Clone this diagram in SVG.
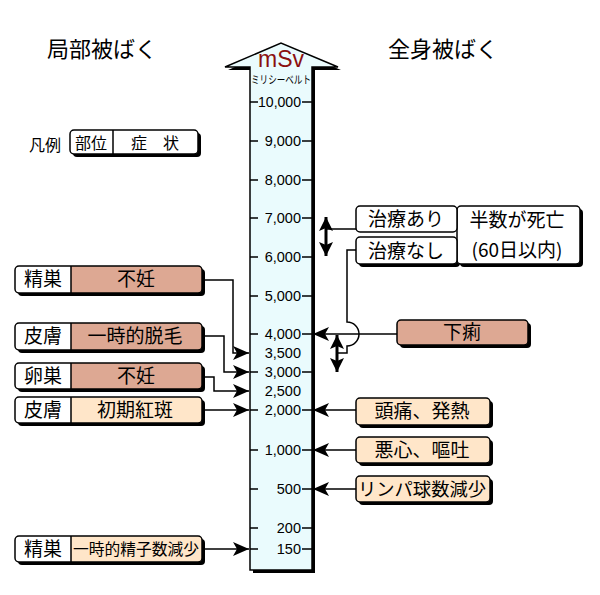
<svg xmlns="http://www.w3.org/2000/svg" width="600" height="595" viewBox="0 0 600 595">
<defs>
<marker id="ah" markerUnits="userSpaceOnUse" markerWidth="16" markerHeight="14" refX="16" refY="7" orient="auto-start-reverse">
<path d="M0,0 L16,7 L0,14 L4,7 Z" fill="#000"/>
</marker>
<marker id="dh" markerUnits="userSpaceOnUse" markerWidth="14" markerHeight="14" refX="14" refY="7" orient="auto-start-reverse">
<path d="M0,0 L14,7 L0,14 L3,7 Z" fill="#000"/>
</marker>
</defs>
<style>
.jp{font-family:"Noto Sans CJK JP","Noto Sans",sans-serif;fill:#000}
.num{font-family:"Liberation Sans",Arial,sans-serif;font-size:14.5px;text-anchor:end;fill:#000}
.tick{stroke:#000;stroke-width:1.5}
.sh{fill:#000}
.box{stroke:#000;stroke-width:1.5}
.salmon{fill:#DDA893}
.peach{fill:#FFE6C9}
.white{fill:#fff}
.con{fill:none;stroke:#000;stroke-width:1.5}
.arr{marker-end:url(#ah)}
.both{fill:none;stroke:#000;stroke-width:3;marker-start:url(#dh);marker-end:url(#dh)}
</style>
<rect width="600" height="595" fill="#fff"/>

<text class="jp" x="102" y="57" font-size="22" text-anchor="middle">局部被ばく</text>
<text class="jp" x="443" y="57" font-size="22" text-anchor="middle">全身被ばく</text>

<!-- Scale bar -->
<g id="scale">
<path d="M253,573 L253,70 L228,70 L284,46 L341,70 L315,70 L315,573 Z" class="sh"/>
<path d="M250,570 L250,67 L225,67 L281,43 L338,67 L312,67 L312,570 Z" fill="#EAFBFD" stroke="#000" stroke-width="1.5"/>
<text x="281" y="67" font-family="Liberation Sans,Arial,sans-serif" font-size="23" fill="#8B1010" text-anchor="middle">mSv</text>
<text class="jp" x="281" y="84" font-size="11" text-anchor="middle" textLength="60" lengthAdjust="spacingAndGlyphs">ミリシーベルト</text>
<g class="tick">
<path d="M250,102H258M302,102H312M250,141H258M302,141H312M250,180H258M302,180H312M250,218H258M302,218H312M250,257H258M302,257H312M250,296H258M302,296H312M250,334H258M302,334H312M250,372H258M302,372H312M250,410H258M302,410H312M250,450H258M302,450H312M250,489H258M302,489H312M250,528H258M302,528H312M250,549H258M302,549H312"/>
</g>
<text class="num" x="301" y="107" textLength="43" lengthAdjust="spacingAndGlyphs">10,000</text>
<text class="num" x="301" y="146">9,000</text>
<text class="num" x="301" y="185">8,000</text>
<text class="num" x="301" y="223">7,000</text>
<text class="num" x="301" y="262">6,000</text>
<text class="num" x="301" y="301">5,000</text>
<text class="num" x="301" y="339">4,000</text>
<text class="num" x="301" y="358">3,500</text>
<text class="num" x="301" y="377">3,000</text>
<text class="num" x="301" y="396">2,500</text>
<text class="num" x="301" y="415">2,000</text>
<text class="num" x="301" y="455">1,000</text>
<text class="num" x="301" y="494">500</text>
<text class="num" x="301" y="533">200</text>
<text class="num" x="301" y="554">150</text>
</g>

<!-- Legend -->
<g id="legend">
<text class="jp" x="45" y="151" font-size="16" text-anchor="middle">凡例</text>
<rect x="73" y="133" width="128" height="24" rx="4" class="sh"/>
<rect x="70" y="130" width="128" height="24" rx="4" class="white box"/>
<line x1="113" y1="130" x2="113" y2="154" class="box"/>
<text class="jp" x="91" y="149" font-size="16" text-anchor="middle">部位</text>
<text class="jp" x="155" y="149" font-size="16" text-anchor="middle">症　状</text>
</g>

<!-- Left nodes -->
<g id="l-seiso-funin">
<rect x="18" y="269" width="187" height="27" rx="4" class="sh"/>
<rect x="15" y="266" width="187" height="27" rx="4" class="salmon"/>
<path d="M71,266 H19 Q15,266 15,270 V289 Q15,293 19,293 H71 Z" class="white"/>
<rect x="15" y="266" width="187" height="27" rx="4" fill="none" class="box"/>
<line x1="71" y1="266" x2="71" y2="293" class="box"/>
<text class="jp" x="43" y="286" font-size="19" text-anchor="middle">精巣</text>
<text class="jp" x="136" y="286" font-size="19" text-anchor="middle">不妊</text>
</g>
<g id="l-hifu-datsumo">
<rect x="18" y="326" width="187" height="27" rx="4" class="sh"/>
<rect x="15" y="323" width="187" height="27" rx="4" class="salmon"/>
<path d="M71,323 H19 Q15,323 15,327 V346 Q15,350 19,350 H71 Z" class="white"/>
<rect x="15" y="323" width="187" height="27" rx="4" fill="none" class="box"/>
<line x1="71" y1="323" x2="71" y2="350" class="box"/>
<text class="jp" x="43" y="343" font-size="19" text-anchor="middle">皮膚</text>
<text class="jp" x="135" y="343" font-size="19" text-anchor="middle">一時的脱毛</text>
</g>
<g id="l-ranso-funin">
<rect x="18" y="366" width="187" height="26" rx="4" class="sh"/>
<rect x="15" y="363" width="187" height="26" rx="4" class="salmon"/>
<path d="M71,363 H19 Q15,363 15,367 V385 Q15,389 19,389 H71 Z" class="white"/>
<rect x="15" y="363" width="187" height="26" rx="4" fill="none" class="box"/>
<line x1="71" y1="363" x2="71" y2="389" class="box"/>
<text class="jp" x="43" y="383" font-size="19" text-anchor="middle">卵巣</text>
<text class="jp" x="136" y="383" font-size="19" text-anchor="middle">不妊</text>
</g>
<g id="l-hifu-kohan">
<rect x="18" y="400" width="187" height="26" rx="4" class="sh"/>
<rect x="15" y="397" width="187" height="26" rx="4" class="peach"/>
<path d="M71,397 H19 Q15,397 15,401 V419 Q15,423 19,423 H71 Z" class="white"/>
<rect x="15" y="397" width="187" height="26" rx="4" fill="none" class="box"/>
<line x1="71" y1="397" x2="71" y2="423" class="box"/>
<text class="jp" x="43" y="417" font-size="19" text-anchor="middle">皮膚</text>
<text class="jp" x="135" y="417" font-size="19" text-anchor="middle">初期紅斑</text>
</g>
<g id="l-seiso-seishi">
<rect x="18" y="539" width="187" height="26" rx="4" class="sh"/>
<rect x="15" y="536" width="187" height="26" rx="4" class="peach"/>
<path d="M71,536 H19 Q15,536 15,540 V558 Q15,562 19,562 H71 Z" class="white"/>
<rect x="15" y="536" width="187" height="26" rx="4" fill="none" class="box"/>
<line x1="71" y1="536" x2="71" y2="562" class="box"/>
<text class="jp" x="43" y="556" font-size="19" text-anchor="middle">精巣</text>
<text class="jp" x="136" y="555" font-size="16" text-anchor="middle" textLength="126" lengthAdjust="spacingAndGlyphs">一時的精子数減少</text>
</g>

<!-- Right nodes -->
<g id="r-chiryo">
<rect x="460" y="209" width="123" height="58" rx="4" class="sh"/>
<rect x="359" y="240" width="101" height="27" rx="4" class="sh"/>
<rect x="457" y="206" width="123" height="58" rx="4" class="white box"/>
<rect x="356" y="206" width="101" height="26" rx="4" class="white box"/>
<rect x="356" y="237" width="101" height="27" rx="4" class="white box"/>
<text class="jp" x="406" y="226" font-size="19" text-anchor="middle">治療あり</text>
<text class="jp" x="406" y="258" font-size="19" text-anchor="middle">治療なし</text>
<text class="jp" x="517" y="227" font-size="19" text-anchor="middle">半数が死亡</text>
<text class="jp" x="517" y="257" font-size="19" text-anchor="middle">(60日以内)</text>
</g>
<g id="r-geri">
<rect x="400" y="323" width="131" height="25" rx="4" class="sh"/>
<rect x="397" y="320" width="131" height="25" rx="4" class="salmon box"/>
<text class="jp" x="462" y="339" font-size="19" text-anchor="middle">下痢</text>
</g>
<g id="r-zutsu">
<rect x="359" y="401" width="134" height="27" rx="4" class="sh"/>
<rect x="356" y="398" width="134" height="27" rx="4" class="peach box"/>
<text class="jp" x="422" y="418" font-size="19" text-anchor="middle">頭痛、発熱</text>
</g>
<g id="r-oshin">
<rect x="359" y="440" width="134" height="26" rx="4" class="sh"/>
<rect x="356" y="437" width="134" height="26" rx="4" class="peach box"/>
<text class="jp" x="422" y="457" font-size="19" text-anchor="middle">悪心、嘔吐</text>
</g>
<g id="r-lymph">
<rect x="359" y="479" width="134" height="26" rx="4" class="sh"/>
<rect x="356" y="476" width="134" height="26" rx="4" class="peach box"/>
<text class="jp" x="422" y="496" font-size="18" text-anchor="middle" textLength="128" lengthAdjust="spacingAndGlyphs">リンパ球数減少</text>
</g>

<!-- Connectors -->
<g id="connectors">
<path class="con arr" d="M202,280 H233 V353 H249"/>
<path class="con arr" d="M202,336 H224 V372 H249"/>
<path class="con arr" d="M202,377 H214 V391 H249"/>
<path class="con arr" d="M202,410 H249"/>
<path class="con arr" d="M202,549 H249"/>
<path class="con arr" d="M397,334 H313"/>
<path class="con arr" d="M356,410 H313"/>
<path class="con arr" d="M356,450 H313"/>
<path class="con arr" d="M356,489 H313"/>
<path class="con" d="M356,229 H326"/>
<path class="both" d="M326,256 V217"/>
<path class="con" d="M356,250 H347 V322 A12,12 0 0 1 347,346 V353 H337"/>
<path class="both" d="M337,372 V335"/>
</g>
</svg>
